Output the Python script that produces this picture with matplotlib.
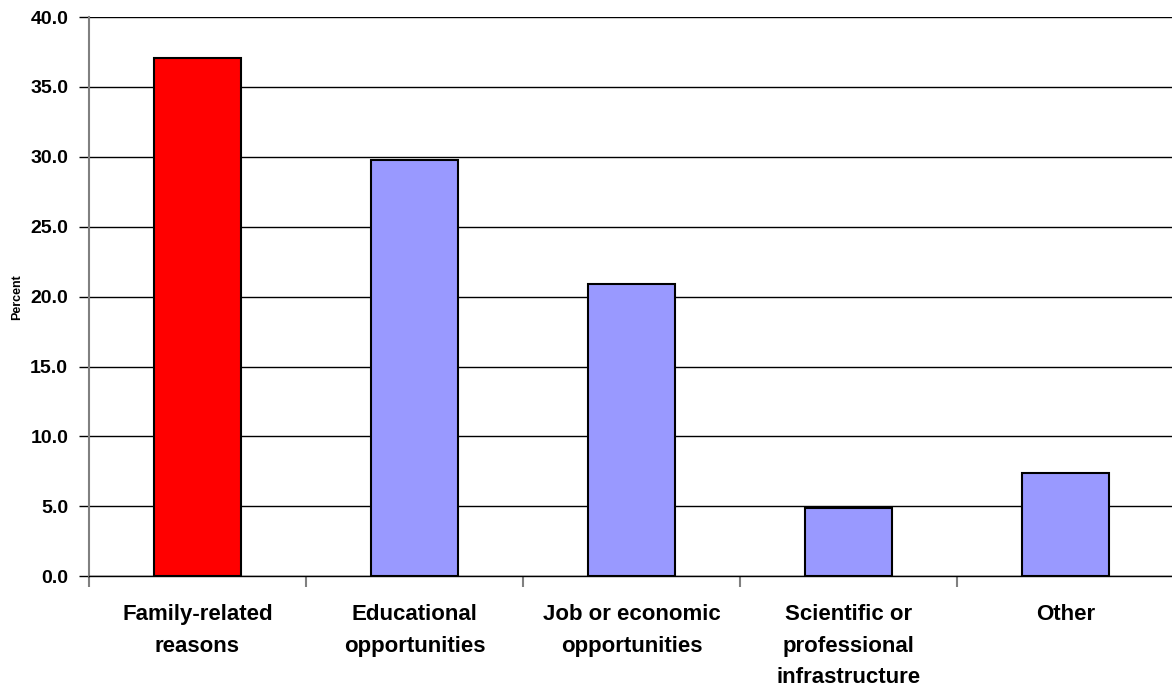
import matplotlib
matplotlib.use("Agg")
import matplotlib.pyplot as plt
from matplotlib.ticker import FixedLocator

categories = ["Family-related\nreasons", "Educational\nopportunities", "Job or economic\nopportunities",
              "Scientific or\nprofessional\ninfrastructure", "Other"]
values = [37.1, 29.8, 20.9, 4.9, 7.4]
colors = ["#FF0000", "#9999FF", "#9999FF", "#9999FF", "#9999FF"]
yticks = [0, 5, 10, 15, 20, 25, 30, 35, 40]

plt.rcParams['font.family'] = ['Liberation Sans', 'DejaVu Sans']

fig = plt.figure(figsize=(11.72, 6.92), dpi=100)
ax = fig.add_axes([89/1172, 1-576.3/692, (1174-89)/1172, (576.3-17)/692])

x = list(range(len(categories)))
ax.bar(x, values, width=0.4, color=colors, edgecolor="black", linewidth=1.5, zorder=3)

ax.set_xlim(-0.5, len(categories) - 0.5)
ax.set_ylim(0, 40)
ax.set_yticks(yticks)
ax.set_yticklabels([f"{v:.1f}" for v in yticks], fontsize=14, fontweight="bold")
ax.yaxis.grid(True, color="black", linewidth=1.0, zorder=0)
ax.set_axisbelow(True)

ax.set_xticks(x)
ax.set_xticklabels(categories, fontsize=16, fontweight="bold", linespacing=1.66)
ax.tick_params(axis="x", which="major", length=0, pad=20)
ax.xaxis.set_minor_locator(FixedLocator([i + 0.5 for i in range(len(categories) - 1)] + [-0.5]))
ax.tick_params(axis="x", which="minor", length=8, width=1.5, color="#808080", direction="out")
ax.tick_params(axis="y", length=7, width=1.0, color="black", pad=8)

for s in ["top", "right"]:
    ax.spines[s].set_visible(False)
ax.spines["left"].set_color("#808080")
ax.spines["left"].set_linewidth(1.5)
ax.spines["bottom"].set_color("black")
ax.spines["bottom"].set_linewidth(1.0)

ax.set_ylabel("Percent", fontsize=9, fontweight="bold")
ax.yaxis.set_label_coords((23 - 89) / 1085, 0.5)

fig.savefig("out.png", dpi=100)
